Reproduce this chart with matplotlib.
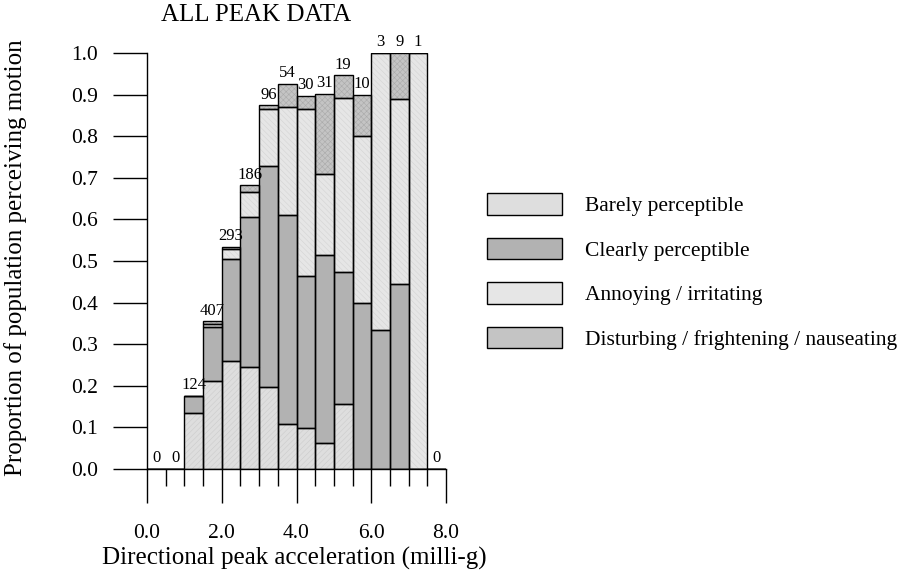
import matplotlib
matplotlib.use('Agg')
import matplotlib.pyplot as plt
from matplotlib.patches import Patch
from matplotlib.ticker import MultipleLocator, FormatStrFormatter

plt.rcParams['font.family'] = ['Liberation Serif', 'DejaVu Serif']
plt.rcParams['hatch.linewidth'] = 0.4

# bin starts (milli-g), bin width 0.5
bin_start = [0.0, 0.5, 1.0, 1.5, 2.0, 2.5, 3.0, 3.5, 4.0, 4.5, 5.0, 5.5, 6.0, 6.5, 7.0, 7.5]
counts = [0, 0, 124, 407, 293, 186, 96, 54, 30, 31, 19, 10, 3, 9, 1, 0]

# proportions per response category
barely = [0, 0, 0.135, 0.212, 0.260, 0.246, 0.196, 0.109, 0.098, 0.063, 0.156, 0, 0, 0, 0, 0]
clearly = [0, 0, 0.041, 0.130, 0.244, 0.360, 0.533, 0.502, 0.367, 0.452, 0.317, 0.400, 0.333, 0.444, 0, 0]
annoying = [0, 0, 0, 0.007, 0.026, 0.060, 0.136, 0.258, 0.401, 0.194, 0.420, 0.400, 0.667, 0.445, 1.0, 0]
disturbing = [0, 0, 0, 0.006, 0.004, 0.016, 0.009, 0.056, 0.031, 0.193, 0.053, 0.100, 0, 0.111, 0, 0]

labels = ['Barely perceptible', 'Clearly perceptible', 'Annoying / irritating',
          'Disturbing / frightening / nauseating']
fills = ['#dedede', '#b2b2b2', '#e6e6e6', '#c4c4c4']
hatch_cols = ['#cccccc', '#a8a8a8', '#d4d4d4', '#aaaaaa']
hatches = ['//////', '', '\\\\\\\\\\\\', 'xxxxxx']

W, H = 900, 574
fig = plt.figure(figsize=(W / 100, H / 100), dpi=100)
ax = fig.add_axes([147 / W, 1 - 469 / H, (446 - 147) / W, (469 - 53) / H])

series = [barely, clearly, annoying, disturbing]
bottom = [0.0] * len(bin_start)
for vals, fc, hc, hatch in zip(series, fills, hatch_cols, hatches):
    ax.bar(bin_start, vals, width=0.5, bottom=bottom, align='edge',
           color=fc, edgecolor=hc, hatch=hatch, linewidth=0, zorder=2)
    ax.bar(bin_start, vals, width=0.5, bottom=bottom, align='edge',
           fill=False, edgecolor='black', linewidth=1.0, zorder=3)
    bottom = [b + v for b, v in zip(bottom, vals)]

# sample sizes on top of each bar
for x, top, n in zip(bin_start, bottom, counts):
    ax.annotate(str(n), (x + 0.25, top), xytext=(0, 2), textcoords='offset points',
                ha='center', va='bottom', fontsize=12, clip_on=False)

ax.set_xlim(0, 8)
ax.set_ylim(0, 1)
for s in ['top', 'right']:
    ax.spines[s].set_visible(False)
ax.spines['left'].set_bounds(0, 1)
ax.spines['bottom'].set_bounds(0, 8)
ax.spines['left'].set_linewidth(1.0)
ax.spines['bottom'].set_linewidth(1.0)

ax.xaxis.set_major_locator(MultipleLocator(2))
ax.xaxis.set_minor_locator(MultipleLocator(0.5))
ax.xaxis.set_major_formatter(FormatStrFormatter('%.1f'))
ax.yaxis.set_major_locator(MultipleLocator(0.1))
ax.yaxis.set_major_formatter(FormatStrFormatter('%.1f'))
ax.tick_params(axis='x', which='major', length=24.5, width=1.0, pad=15, labelsize=15.5)
ax.tick_params(axis='x', which='minor', length=12.5, width=1.0)
ax.tick_params(axis='y', which='major', length=24.5, width=1.0, pad=11, labelsize=15.5)

fig.text(161 / W, 1 - 15 / H, 'ALL PEAK DATA', ha='left', va='center', fontsize=18)
fig.text(16 / W, 1 - 258 / H, 'Proportion of population perceiving motion',
         rotation=90, ha='center', va='center', fontsize=18)
fig.text(294 / W, 1 - 565 / H, 'Directional peak acceleration (milli-g)',
         ha='center', va='baseline', fontsize=18)

handles = [Patch(facecolor=fc, edgecolor='black', linewidth=1.0) for fc in fills]
fig.legend(handles, labels, loc='upper left', bbox_to_anchor=(487 / W, 1 - 193 / H),
           frameon=False, fontsize=15.5, handlelength=3.5, handleheight=1.16,
           labelspacing=1.0, handletextpad=1.05, borderpad=0, borderaxespad=0)

fig.savefig('out.png', dpi=100)
